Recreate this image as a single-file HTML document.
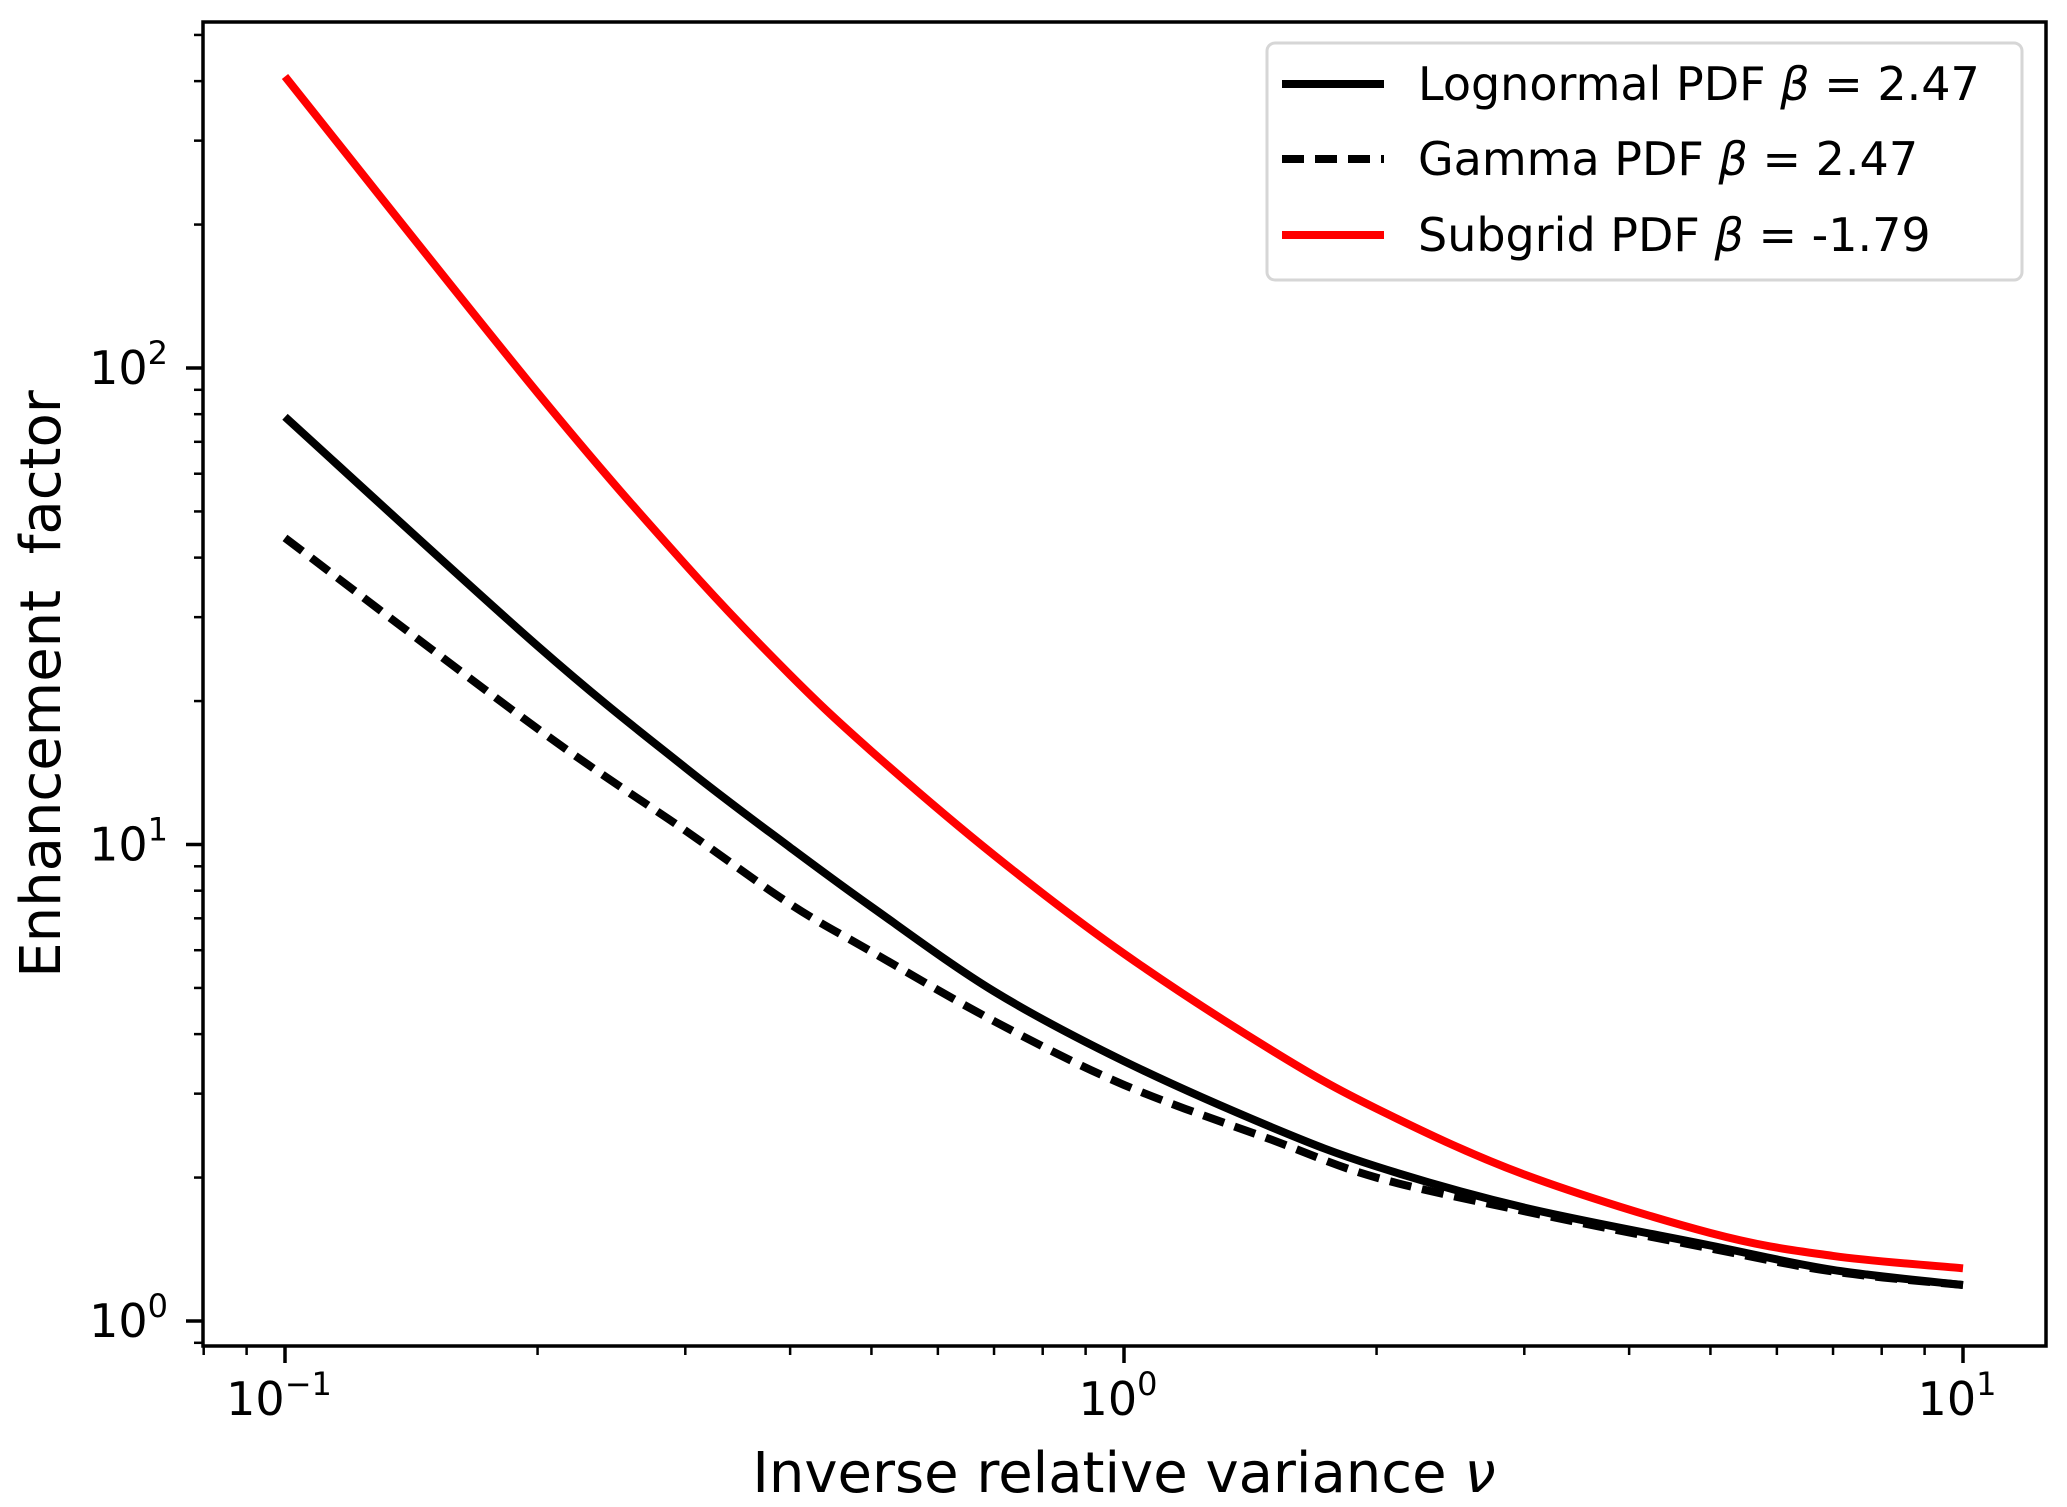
<!DOCTYPE html>
<html><head><meta charset="utf-8"><style>
html,body{margin:0;padding:0;background:#fff;}
svg{display:block;font-family:"DejaVu Sans","Liberation Sans",sans-serif;}
</style></head><body>
<svg id="chart" width="2067" height="1507" viewBox="0 0 2067 1507" xmlns="http://www.w3.org/2000/svg">
<rect width="2067" height="1507" fill="#fff"/>
<g id="ticks"></g>
<g id="series"></g>
<rect x="203" y="22" width="1843" height="1324" fill="none" stroke="#000" stroke-width="3.5"/>
<text x="1124" y="1492" font-size="56" text-anchor="middle">Inverse relative variance  <tspan font-style="italic">ν</tspan></text>
<text transform="translate(60,684) rotate(-90)" font-size="56" text-anchor="middle" xml:space="preserve">Enhancement  factor</text>
<g>
<rect x="1267" y="43" width="755" height="237" rx="8" fill="#fff" stroke="#d6d6d6" stroke-width="3"/>
<line x1="1282" y1="84" x2="1384" y2="84" stroke="#000" stroke-width="8"/>
<text x="1418" y="100" font-size="46">Lognormal PDF <tspan font-style="italic">β</tspan> = 2.47</text>
<line x1="1282" y1="159" x2="1384" y2="159" stroke="#000" stroke-width="8" stroke-dasharray="22,11"/>
<text x="1418" y="175" font-size="46">Gamma PDF <tspan font-style="italic">β</tspan> = 2.47</text>
<line x1="1282" y1="235" x2="1384" y2="235" stroke="#ff0000" stroke-width="8"/>
<text x="1418" y="251" font-size="46">Subgrid PDF <tspan font-style="italic">β</tspan> = -1.79</text>
</g>
</svg>
<script>
const nu = [0.1,0.2,0.3,0.4,0.5,0.7,1,1.5,2,3,5,7,10];
const lognormal = [79,26.1,14.5,9.86,7.4,4.92,3.51,2.55,2.11,1.73,1.44,1.28,1.19];
const gamma = [44,17.5,10.7,7.5,5.96,4.26,3.13,2.40,2.0,1.70,1.42,1.27,1.19];
const subgrid = [409,88.7,38.7,22.7,15.7,9.5,5.9,3.70,2.79,2.03,1.53,1.37,1.29];
const xDecades = [-1,0,1];
const yDecades = [0,1,2];

const NS="http://www.w3.org/2000/svg";
function X(v){return 1124+839*Math.log10(v);}
function Y(v){return 1321-476.5*Math.log10(v);}
const tg=document.getElementById('ticks'), sg=document.getElementById('series');
function mk(tag,attrs,parent){const e=document.createElementNS(NS,tag);for(const k in attrs)e.setAttribute(k,attrs[k]);parent.appendChild(e);return e;}

for(let d=-2; d<=1; d++){
  for(let m=1;m<=9;m++){
    const v=m*Math.pow(10,d), x=X(v);
    if(x<203||x>2046) continue;
    const major=(m===1);
    const t=mk('line',{x1:x,y1:1346,x2:x,y2:1346+(major?17:9),stroke:'#000','stroke-width':major?3.5:2.5},tg);
    
    
  }
}
xDecades.forEach(d=>{
  const t=mk('text',{x:X(Math.pow(10,d))-6,y:1415,'font-size':46,'text-anchor':'middle'},tg);
  
  
  t.innerHTML='10<tspan dy="-20" font-size="32">'+(d<0?'−'+(-d):d)+'</tspan>';
});
for(let d=-1; d<=2; d++){
  for(let m=1;m<=9;m++){
    const v=m*Math.pow(10,d), y=Y(v);
    if(y<22||y>1346) continue;
    const major=(m===1);
    const t=mk('line',{x1:203-(major?17:9),y1:y,x2:203,y2:y,stroke:'#000','stroke-width':major?3.5:2.5},tg);
    
    
  }
}
yDecades.forEach(d=>{
  const t=mk('text',{x:168,y:Y(Math.pow(10,d))+16,'font-size':46,'text-anchor':'end'},tg);
  
  
  t.innerHTML='10<tspan dy="-20" font-size="32">'+d+'</tspan>';
});
function line(vals,color,dash,name){
  const P=nu.map((v,i)=>[X(v),Y(vals[i])]);
  let d='M'+P[0][0].toFixed(1)+','+P[0][1].toFixed(1);
  for(let i=0;i<P.length-1;i++){
    const p0=P[Math.max(i-1,0)],p1=P[i],p2=P[i+1],p3=P[Math.min(i+2,P.length-1)];
    const c1=[p1[0]+(p2[0]-p0[0])/6,p1[1]+(p2[1]-p0[1])/6];
    const c2=[p2[0]-(p3[0]-p1[0])/6,p2[1]-(p3[1]-p1[1])/6];
    d+=' C'+c1[0].toFixed(1)+','+c1[1].toFixed(1)+' '+c2[0].toFixed(1)+','+c2[1].toFixed(1)+' '+p2[0].toFixed(1)+','+p2[1].toFixed(1);
  }
  const p=mk('path',{d:d,fill:'none',stroke:color,'stroke-width':8,'stroke-linejoin':'round'},sg);
  if(dash) p.setAttribute('stroke-dasharray',dash);
  
  
}
line(gamma,'#000','22,11','gamma-pdf-line');
line(lognormal,'#000',null,'lognormal-pdf-line');
line(subgrid,'#ff0000',null,'subgrid-pdf-line');
</script>
</body></html>
